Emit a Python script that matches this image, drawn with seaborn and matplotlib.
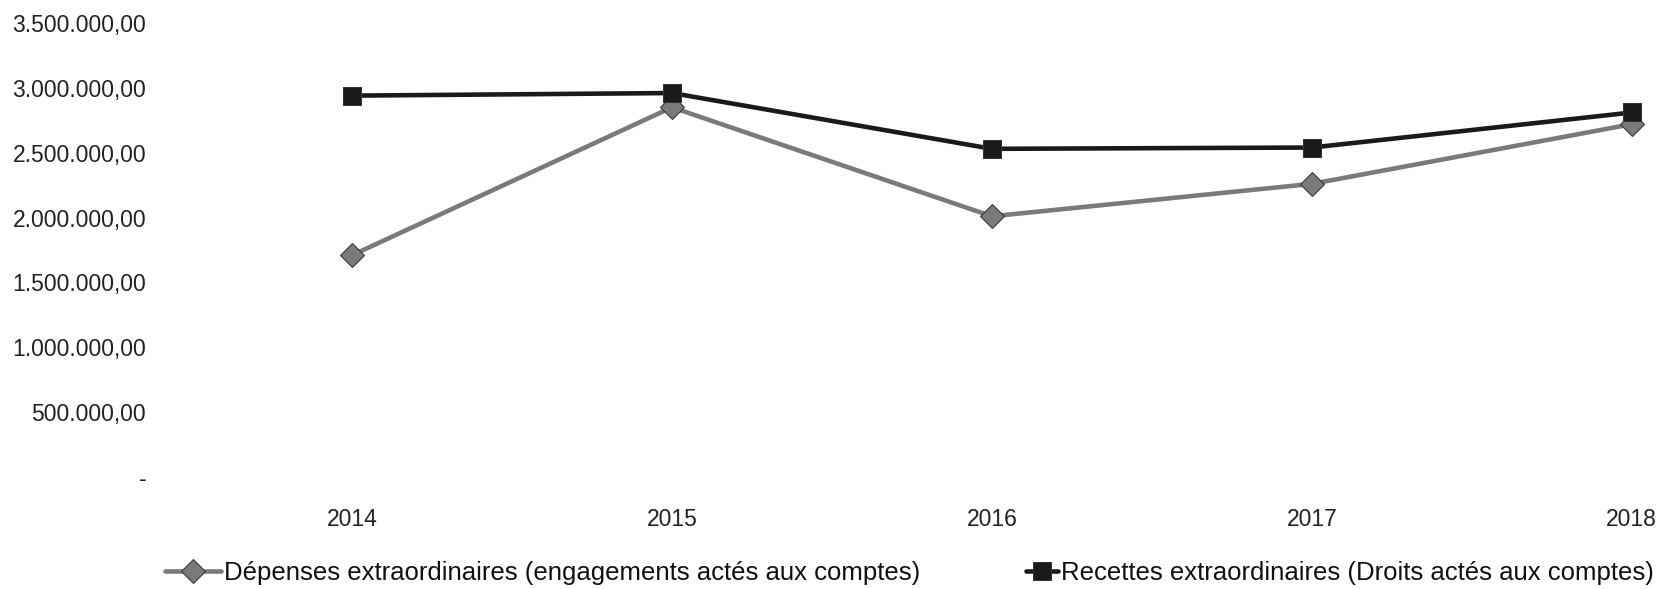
import matplotlib
matplotlib.use("Agg")
import matplotlib.pyplot as plt
import matplotlib.ticker as mticker
import seaborn as sns
import pandas as pd

years = ['2014', '2015', '2016', '2017', '2018']
depenses = [1710000, 2850000, 2010000, 2260000, 2720000]
recettes = [2940000, 2960000, 2530000, 2540000, 2810000]
series_names = ['Dépenses extraordinaires (engagements actés aux comptes)',
                'Recettes extraordinaires (Droits actés aux comptes)']

df = pd.DataFrame({
    'annee': years * 2,
    'valeur': depenses + recettes,
    'serie': [series_names[0]] * 5 + [series_names[1]] * 5,
})

sns.set_style('white')
plt.rcParams['font.family'] = ['Liberation Sans', 'DejaVu Sans']

fig = plt.figure(figsize=(16.67, 5.89), dpi=100)
ax = fig.add_axes([0.096, 0.19, 0.904, 0.771])

sns.lineplot(data=df, x='annee', y='valeur', hue='serie', style='serie',
             palette=['#7a7a7a', '#1a1a1a'], markers=['D', 's'], dashes=False,
             linewidth=3.3, markersize=12.5, markeredgecolor='#333333', ax=ax)

ax.set_ylim(0, 3500000)
ax.set_xlim(-0.6, 4.11)
ax.set_yticks(range(0, 3500001, 500000))


def fmt(v, pos):
    if v == 0:
        return '-'
    s = f'{v:,.2f}'
    return s.replace(',', ' ').replace('.', ',').replace(' ', '.')


ax.yaxis.set_major_formatter(mticker.FuncFormatter(fmt))
ax.tick_params(axis='both', labelsize=16.5, colors='#222222', length=0)
ax.tick_params(axis='x', pad=22)
ax.tick_params(axis='y', pad=10)
for s in ax.spines.values():
    s.set_visible(False)
ax.set_xlabel('')
ax.set_ylabel('')

handles, labels = ax.get_legend_handles_labels()
ax.get_legend().remove()
leg_kw = dict(frameon=False, fontsize=18.5, handletextpad=0.1,
              borderaxespad=0, borderpad=0, labelcolor='#111111')
leg1 = ax.legend(handles[:1], labels[:1], loc='center left',
                 bbox_to_anchor=(0.003, -0.211), handlelength=2.2, **leg_kw)
ax.add_artist(leg1)
ax.legend(handles[1:], labels[1:], loc='center left',
          bbox_to_anchor=(0.5747, -0.211), handlelength=1.25, **leg_kw)

fig.savefig('out.png', dpi=100, facecolor='white')
